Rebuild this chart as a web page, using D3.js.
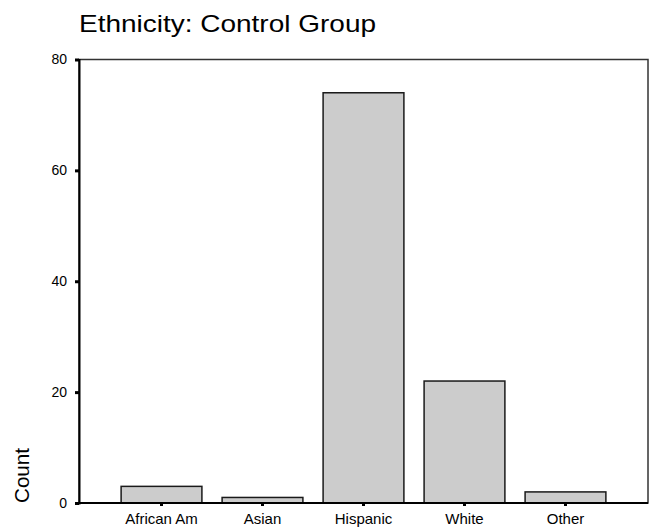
<!DOCTYPE html>
<html>
<head>
<meta charset="utf-8">
<script src="https://cdn.jsdelivr.net/npm/d3@7"></script>
<style>
  html, body { margin: 0; padding: 0; background: #fff; }
  svg { display: block; font-family: Arial, "Liberation Sans", sans-serif; }
</style>
</head>
<body>
<svg id="chart" width="657" height="527"></svg>
<script>
const categories = ["African Am", "Asian", "Hispanic", "White", "Other"];
const counts = [3, 1, 74, 22, 2];
const yTicks = [0, 20, 40, 60, 80];
const titleText = "Ethnicity: Control Group";
const yLabel = "Count";

(function () {
const svg = d3.select("#chart");
const pL = 79, pR = 648, pT = 59.5, pB = 503;

const x = d3.scaleBand().domain(categories).range([pL, pR])
  .paddingInner(0.2).paddingOuter(0.417);
const y = d3.scaleLinear().domain([0, 80]).range([pB, pT]);

// frame
svg.append("rect")
  .attr("x", pL).attr("y", pT)
  .attr("width", pR - pL).attr("height", pB - pT)
  .attr("fill", "none").attr("stroke", "#333").attr("stroke-width", 1.5);

// bars
svg.append("g").selectAll("rect").data(categories).join("rect")
  .attr("x", d => x(d))
  .attr("y", (d, i) => y(counts[i]))
  .attr("width", x.bandwidth())
  .attr("height", (d, i) => y(0) - y(counts[i]))
  .attr("fill", "#cccccc")
  .attr("stroke", "#1a1a1a")
  .attr("stroke-width", 1.5);

// y axis
const yAxis = d3.axisLeft(y).tickValues(yTicks).tickSize(4).tickPadding(8);
const gy = svg.append("g").attr("transform", `translate(${pL},0)`).call(yAxis);
gy.select(".domain").attr("stroke", "#000").attr("stroke-width", 2);
gy.selectAll(".tick line").attr("stroke", "#000").attr("stroke-width", 3);
gy.selectAll(".tick text").attr("font-size", 14).attr("font-family", "Arial, 'Liberation Sans', sans-serif").attr("fill", "#000");

// x axis
const xAxis = d3.axisBottom(x).tickSize(3).tickPadding(8);
const gx = svg.append("g").attr("transform", `translate(0,${pB})`).call(xAxis);
gx.select(".domain").attr("stroke", "#000").attr("stroke-width", 2).attr("d", `M${pL - 4},0H${pR}`);
gx.selectAll(".tick line").attr("stroke", "#000").attr("stroke-width", 3);
gx.selectAll(".tick text").attr("font-size", 15).attr("font-family", "Arial, 'Liberation Sans', sans-serif").attr("fill", "#000")
  .attr("dy", null).attr("y", 21);

// title
svg.append("text")
  .attr("x", 79).attr("y", 31.7)
  .attr("font-size", 24)
  .attr("textLength", 297).attr("lengthAdjust", "spacingAndGlyphs")
  .attr("fill", "#000")
  .text(titleText);

// y label
svg.append("text")
  .attr("transform", "translate(29,475.5) rotate(-90)")
  .attr("text-anchor", "middle")
  .attr("font-size", 20)
  .attr("textLength", 55).attr("lengthAdjust", "spacingAndGlyphs")
  .attr("fill", "#000")
  .text(yLabel);
})();
</script>
</body>
</html>
